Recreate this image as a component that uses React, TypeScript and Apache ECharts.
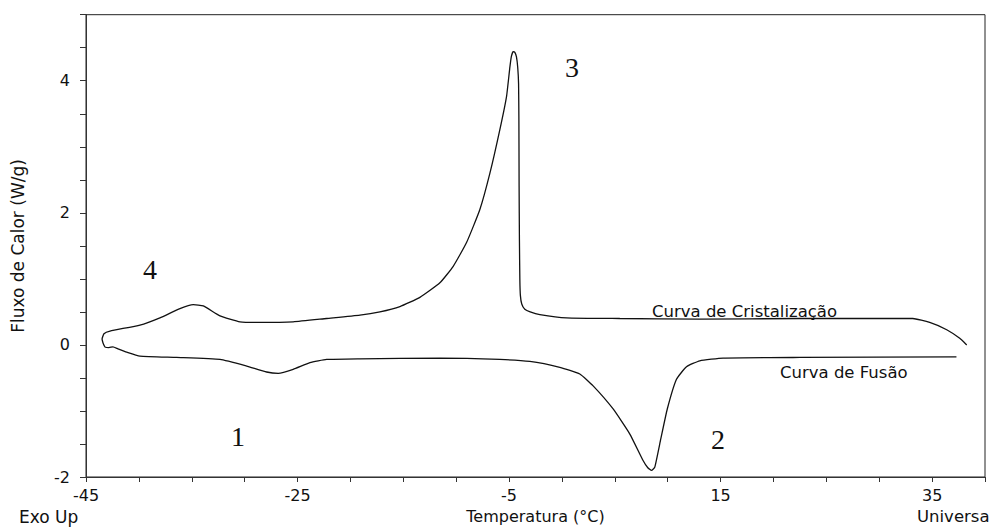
import React, { useEffect, useRef } from "react";
import * as echarts from "echarts";

// Cooling run (crystallization), from high to low temperature
const cristalTemp = [
  38.27, 37.61, 36.38, 34.77, 33.17, 29.1, 22.49, 13.03, 5.47, 0.43, -2.09, -3.0, -3.51, -3.8,
  -3.93, -3.98, -4.02, -4.05, -4.07, -4.1, -4.18, -4.3, -4.45, -4.61, -4.78, -4.92, -5.24, -5.87,
  -6.81, -7.76, -9.02, -10.28, -11.54, -13.43, -15.32, -17.21, -19.1, -22.25, -25.41, -28.55,
  -30.44, -32.33, -33.91, -34.86, -36.12, -38.01, -39.9, -42.73, -43.3, -43.49,
];
const cristalFlux = [
  0.0, 0.1, 0.23, 0.34, 0.4, 0.4, 0.4, 0.39, 0.4, 0.41, 0.46, 0.5, 0.54, 0.62,
  0.75, 0.99, 1.6, 2.4, 3.4, 3.95, 4.2, 4.36, 4.43, 4.44, 4.37, 4.21, 3.76, 3.26,
  2.6, 2.05, 1.55, 1.19, 0.94, 0.72, 0.58, 0.5, 0.45, 0.4, 0.35, 0.34,
  0.35, 0.44, 0.59, 0.61, 0.55, 0.41, 0.3, 0.21, 0.17, 0.09,
];

// Heating run (melting), from low to high temperature
const fusaoTemp = [
  -43.49, -43.39, -43.2, -42.83, -42.45, -41.98, -41.15, -39.9, -36.43, -32.33, -29.81, -27.92,
  -26.82, -25.41, -23.83, -22.25, -19.1, -11.54, -5.87, -3.03, -0.2, 1.69, 2.95, 4.84, 6.42, 7.67,
  8.12, 8.47, 8.78, 9.35, 9.96, 10.83, 11.78, 13.03, 15.24, 22.49, 37.3,
];
const fusaoFlux = [
  0.09, 0.03, -0.03, -0.04, -0.03, -0.06, -0.11, -0.17, -0.19, -0.22, -0.32, -0.41,
  -0.43, -0.37, -0.27, -0.22, -0.21, -0.2, -0.22, -0.25, -0.34, -0.44, -0.62, -0.97, -1.35, -1.75,
  -1.86, -1.9, -1.85, -1.42, -0.97, -0.52, -0.33, -0.24, -0.2, -0.19, -0.18,
];

const xTickLabels = [-45, -25, -5, 15, 35];
const yTickLabels = [-2, 0, 2, 4];

const FONT = "DejaVu Sans";

export default function App() {
  const ref = useRef<HTMLDivElement>(null);

  useEffect(() => {
    if (!ref.current) return;
    const chart = echarts.init(ref.current, undefined, { renderer: "svg" });

    const lineStyle = { color: "#111", width: 1.3 };
    const serifNum = (text: string, x: number, y: number) => ({
      type: "text",
      x,
      y,
      style: {
        text,
        fill: "#111",
        font: '28px "Liberation Serif"',
        align: "center",
        verticalAlign: "middle",
      },
    });

    chart.setOption({
      animation: false,
      backgroundColor: "#fff",
      grid: {
        left: 86,
        right: 5,
        top: 14.7,
        bottom: 51,
        show: true,
        borderColor: "#222",
        borderWidth: 1,
      },
      xAxis: {
        type: "value",
        min: -45,
        max: 40,
        interval: 5,
        name: "Temperatura (°C)",
        nameLocation: "middle",
        nameGap: 31,
        nameTextStyle: { fontFamily: FONT, fontSize: 16, color: "#111" },
        axisLine: { show: true, onZero: false, lineStyle: { color: "#333" } },
        axisTick: { show: true, length: 5, lineStyle: { color: "#333" } },
        splitLine: { show: false },
        axisLabel: {
          fontFamily: FONT,
          fontSize: 16,
          color: "#111",
          margin: 10,
          formatter: (v: number) => (xTickLabels.includes(v) ? String(v) : ""),
        },
      },
      yAxis: {
        type: "value",
        min: -2,
        max: 5,
        interval: 0.5,
        axisLine: { show: true, onZero: false, lineStyle: { color: "#333" } },
        axisTick: { show: true, length: 6, lineStyle: { color: "#333" } },
        splitLine: { show: false },
        axisLabel: {
          fontFamily: FONT,
          fontSize: 16,
          color: "#111",
          margin: 16,
          formatter: (v: number) => (yTickLabels.includes(v) ? String(v) : ""),
        },
      },
      series: [
        {
          name: "Curva de Cristalização",
          type: "line",
          data: cristalTemp.map((t, i) => [t, cristalFlux[i]]),
          showSymbol: false,
          smooth: 0.15,
          lineStyle,
        },
        {
          name: "Curva de Fusão",
          type: "line",
          data: fusaoTemp.map((t, i) => [t, fusaoFlux[i]]),
          showSymbol: false,
          smooth: 0.15,
          lineStyle,
        },
      ],
      graphic: [
        {
          type: "text",
          x: 18,
          y: 246,
          rotation: Math.PI / 2,
          style: {
            text: "Fluxo de Calor (W/g)",
            fill: "#111",
            font: `17px "${FONT}"`,
            align: "center",
            verticalAlign: "middle",
          },
        },
        {
          type: "text",
          x: 19,
          y: 517,
          style: { text: "Exo Up", fill: "#111", font: `17px "${FONT}"`, verticalAlign: "middle" },
        },
        {
          type: "text",
          x: 917,
          y: 516,
          style: { text: "Universa", fill: "#111", font: `16.5px "${FONT}"`, verticalAlign: "middle" },
        },
        {
          type: "text",
          x: 652,
          y: 311,
          style: {
            text: "Curva de Cristalização",
            fill: "#111",
            font: `16.5px "${FONT}"`,
            verticalAlign: "middle",
          },
        },
        {
          type: "text",
          x: 780,
          y: 372,
          style: {
            text: "Curva de Fusão",
            fill: "#111",
            font: `16.5px "${FONT}"`,
            verticalAlign: "middle",
          },
        },
        serifNum("1", 238, 436),
        serifNum("2", 718, 439),
        serifNum("3", 572, 67),
        serifNum("4", 150, 269),
      ],
    });

    return () => chart.dispose();
  }, []);

  return (
    <div
      ref={ref}
      style={{ position: "fixed", left: 0, top: 0, width: 990, height: 529, background: "#fff" }}
    />
  );
}
